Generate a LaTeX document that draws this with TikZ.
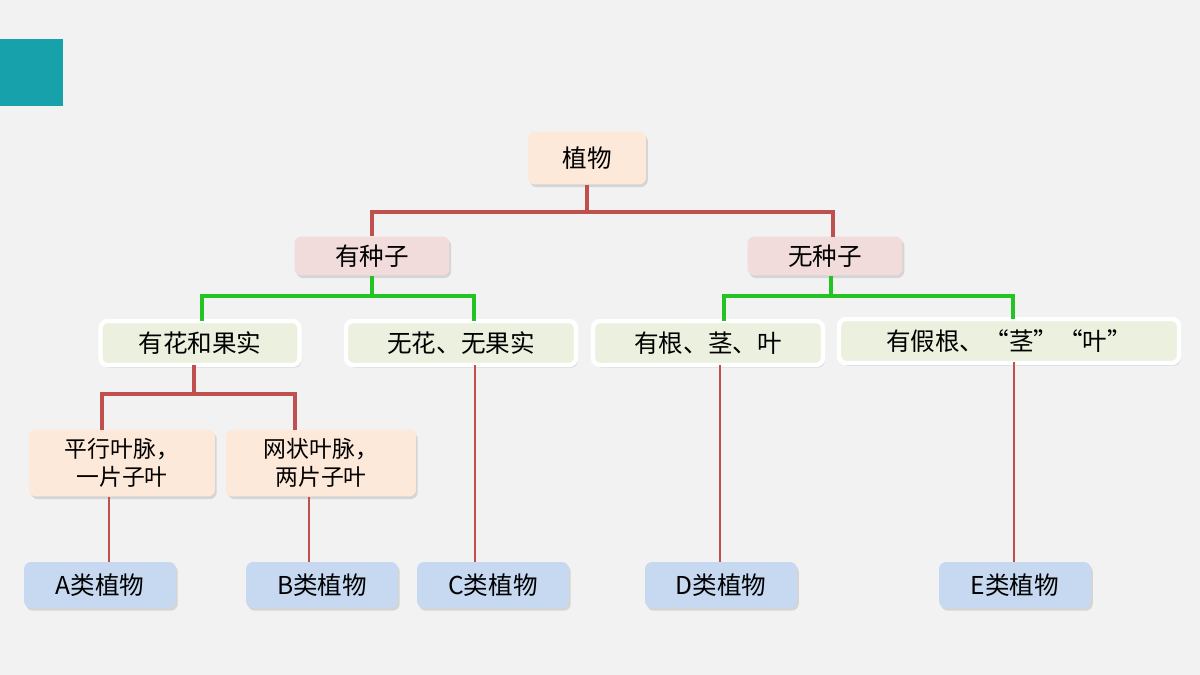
\documentclass[tikz,border=0pt]{standalone}
\usepackage{fontspec}
\setmainfont{Noto Sans CJK SC}
\usetikzlibrary{shadows,calc}
\definecolor{bgc}{HTML}{F2F2F2}
\definecolor{tealc}{HTML}{17A2AB}
\definecolor{peach}{HTML}{FDE9D9}
\definecolor{rosec}{HTML}{F2DCDB}
\definecolor{leafc}{HTML}{EBF1DE}
\definecolor{bluec}{HTML}{C6D9F1}
\definecolor{redl}{HTML}{C0504D}
\definecolor{greenl}{HTML}{22C322}
\tikzset{
  box/.style={rounded corners=4pt, inner sep=0pt, align=center, font=\fontsize{14}{17}\selectfont,
    drop shadow={opacity=0.25, shadow xshift=1pt, shadow yshift=-1.5pt}},
  top/.style={box, fill=peach, minimum width=2.36cm, minimum height=1.06cm},
  seed/.style={box, fill=rosec, minimum width=3.1cm, minimum height=0.78cm},
  leaf/.style={box, fill=leafc, draw=white, line width=2.5pt, minimum height=0.88cm},
  vein/.style={box, fill=peach, minimum height=1.34cm, font=\fontsize{13}{16}\selectfont},
  kind/.style={box, fill=bluec, minimum width=3.04cm, minimum height=0.92cm},
  red link/.style={draw=redl, line width=2.5pt},
  green link/.style={draw=greenl, line width=2pt},
  thin link/.style={draw=redl, line width=1.5pt}
}
\begin{document}
\begin{tikzpicture}[x=0.02cm,y=-0.02cm]
\fill[bgc] (0,0) rectangle (1200,675);
\fill[tealc] (0,39) rectangle (63,106);
\node (plant) [top] at (587,158) {植物};
\node (seed) [seed] at (372,256) {有种子};
\node (noseed) [seed] at (825,256) {无种子};
\node (flower) [leaf, minimum width=3.98cm] at (200,343) {有花和果实};
\node (noflower) [leaf, minimum width=4.6cm] at (461,343) {无花、无果实};
\node (root) [leaf, minimum width=4.6cm] at (708,343) {有根、茎、叶};
\node (fake) [leaf, minimum width=6.8cm] at (1009,341) {有假根、“茎”“叶”};
\node (mono) [vein, minimum width=3.72cm] at (122,463) {平行叶脉，\\ 一片子叶};
\node (dico) [vein, minimum width=3.8cm] at (321,463) {网状叶脉，\\ 两片子叶};
\node (A) [kind] at (100,585) {A类植物};
\node (B) [kind] at (322,585) {B类植物};
\node (C) [kind] at (493,585) {C类植物};
\node (D) [kind] at (721,585) {D类植物};
\node (E) [kind] at (1015,585) {E类植物};
% branches
\draw[red link] (plant.south) |- (372,212) -| (seed.north);
\draw[red link] (plant.south) |- (833,212) -- (833,237);
\draw[green link] (seed.south) |- (202,296) -- (202,321);
\draw[green link] (seed.south) |- (474,296) -- (474,321);
\draw[green link] (831,276) |- (724,296) -- (724,321);
\draw[green link] (831,276) |- (1013,296) -- (1013,319);
\draw[red link] (194,365) |- (102,394) -- (102,430);
\draw[red link] (194,365) |- (295,394) -- (295,430);
% leaves
\draw[thin link] (109,497) -- (109,562);
\draw[thin link] (309,497) -- (309,562);
\draw[thin link] (475,365) -- (475,562);
\draw[thin link] (720,365) -- (720,562);
\draw[thin link] (1014,362) -- (1014,562);
\end{tikzpicture}
\end{document}
